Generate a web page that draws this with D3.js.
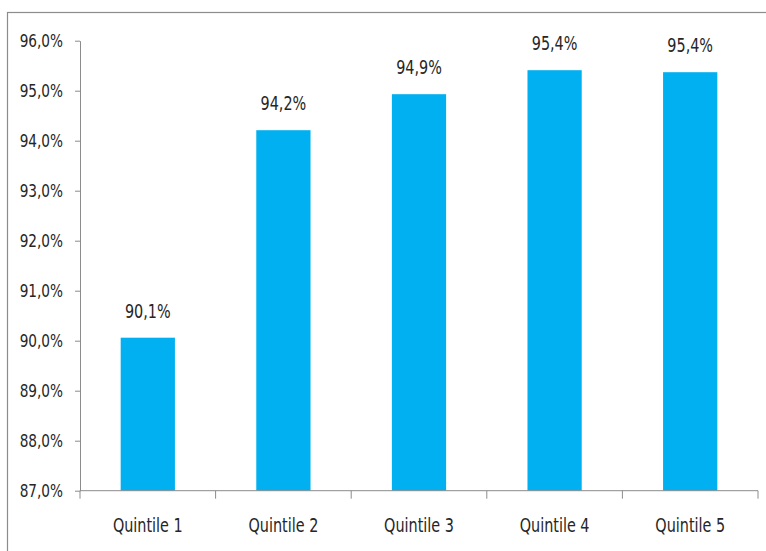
<!DOCTYPE html>
<html>

<head>
  <meta charset="utf-8">
  <script src="https://d3js.org/d3.v7.min.js"></script>
  <style>
    body {
      margin: 0;
      background: #fff;
    }

    text {
      font-family: "Liberation Sans Narrow", "DejaVu Sans Condensed", sans-serif;
      fill: #262626;
    }
  </style>
</head>

<body>
  <svg width="766" height="551"></svg>
  <script>
    // data
    const categories = ["Quintile 1", "Quintile 2", "Quintile 3", "Quintile 4", "Quintile 5"];
    const values = [90.06, 94.21, 94.93, 95.41, 95.37];
    const yTicks = [87, 88, 89, 90, 91, 92, 93, 94, 95, 96];

    const svg = d3.select("svg");
    const fmt = v => v.toFixed(1).replace(".", ",") + "%";

    // frame of the chart area (runs off the right and bottom of the picture)
    svg.append("rect")
      .attr("x", 7.5).attr("y", 12.5)
      .attr("width", 800).attr("height", 600)
      .attr("fill", "none")
      .attr("stroke", "#8c8c8c")
      .attr("stroke-width", 1.2);

    const plotLeft = 80, plotRight = 758, plotTop = 40.7, plotBottom = 490.7;

    const x = d3.scaleBand()
      .domain(categories)
      .range([plotLeft, plotRight])
      .paddingInner(0.6)
      .paddingOuter(0.3);

    const y = d3.scaleLinear()
      .domain([87, 96])
      .range([plotBottom, plotTop]);

    // bars
    svg.append("g")
      .selectAll("rect")
      .data(values)
      .join("rect")
      .attr("x", (d, i) => x(categories[i]))
      .attr("y", d => y(d))
      .attr("width", x.bandwidth())
      .attr("height", d => y(87) - y(d))
      .attr("fill", "#00b0f0");

    // y axis
    const yAxis = svg.append("g")
      .attr("transform", `translate(${plotLeft},0)`)
      .call(d3.axisLeft(y).tickValues(yTicks).tickFormat(fmt).tickSize(5).tickSizeOuter(0).tickPadding(12));
    yAxis.select(".domain").attr("stroke", "#8c8c8c");
    yAxis.selectAll(".tick line").attr("stroke", "#8c8c8c");
    yAxis.selectAll(".tick text")
      .attr("font-size", "18.5px")
      .attr("fill", "#262626");
    yAxis.attr("font-family", null);

    // x axis: labels centred on bars, ticks between categories
    const xAxis = svg.append("g")
      .attr("transform", `translate(0,${plotBottom})`)
      .call(d3.axisBottom(x).tickSize(0).tickPadding(27));
    xAxis.select(".domain").remove();
    xAxis.selectAll(".tick text")
      .attr("font-size", "19.5px")
      .attr("fill", "#262626");
    xAxis.attr("font-family", null);

    const edges = categories.map(c => x(c) - (x.step() - x.bandwidth()) / 2);
    edges.push(plotRight);
    svg.append("line")
      .attr("x1", plotLeft).attr("x2", plotRight)
      .attr("y1", plotBottom).attr("y2", plotBottom)
      .attr("stroke", "#8c8c8c");
    svg.append("g")
      .selectAll("line")
      .data(edges)
      .join("line")
      .attr("x1", d => d).attr("x2", d => d)
      .attr("y1", plotBottom).attr("y2", plotBottom + 8)
      .attr("stroke", "#8c8c8c");

    // value labels
    svg.append("g")
      .selectAll("text")
      .data(values)
      .join("text")
      .attr("x", (d, i) => x(categories[i]) + x.bandwidth() / 2)
      .attr("y", d => y(d) - 20)
      .attr("text-anchor", "middle")
      .attr("font-size", "19.5px")
      .text(fmt);

    // the original font is a narrow one, squeeze the fallback font to fit
    svg.selectAll("text").each(function () {
      const w = this.getComputedTextLength();
      d3.select(this)
        .attr("textLength", w * 0.82)
        .attr("lengthAdjust", "spacingAndGlyphs");
    });
  </script>
</body>

</html>
